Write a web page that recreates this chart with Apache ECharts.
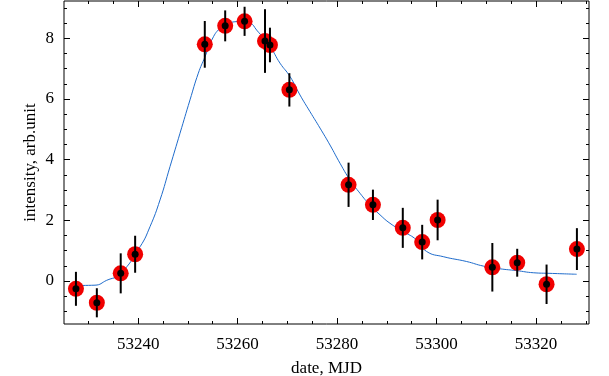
<!DOCTYPE html>
<html>
<head>
<meta charset="utf-8">
<script src="https://cdn.jsdelivr.net/npm/echarts@6/dist/echarts.min.js"></script>
<style>
  html, body { margin: 0; padding: 0; background: #fff; }
  #chart { width: 609px; height: 376px; }
</style>
</head>
<body>
<div id="chart"></div>
<script>
// observed points
const dates = [53227.5, 53231.7, 53236.5, 53239.4, 53253.4, 53257.5, 53261.4, 53265.5, 53266.5, 53270.4,
  53282.3, 53287.2, 53293.2, 53297.1, 53300.2, 53311.2, 53316.2, 53322.1, 53328.2];
const intensity = [-0.26, -0.72, 0.25, 0.88, 7.80, 8.41, 8.56, 7.91, 7.78, 6.30,
  3.17, 2.51, 1.75, 1.28, 2.01, 0.45, 0.60, -0.11, 1.05];
const errors = [0.56, 0.48, 0.66, 0.61, 0.77, 0.51, 0.48, 1.05, 0.57, 0.55,
  0.73, 0.50, 0.66, 0.57, 0.67, 0.80, 0.46, 0.65, 0.69];

// fitted curve
const fitDates = [53227.65, 53231.33, 53233.68, 53236.36, 53240.4, 53242.39, 53244.4, 53246.41, 53248.42,
  53250.43, 53252.1, 53253.44, 53254.79, 53256.46, 53258.47, 53260.48, 53262.49, 53263.83, 53266.51,
  53268.52, 53270.53, 53272.54, 53274.55, 53276.56, 53278.57, 53280.58, 53282.59, 53284.6, 53286.61,
  53288.62, 53290.63, 53293.3, 53295.99, 53298.0, 53301.34, 53306.04, 53309.38, 53312.74, 53316.1,
  53319.43, 53322.79, 53328.15];
const fitValues = [-0.15, -0.14, 0.02, 0.23, 1.13, 1.79, 2.67, 3.77, 4.87,
  5.97, 6.85, 7.39, 7.94, 8.33, 8.52, 8.55, 8.50, 8.27, 7.73,
  7.18, 6.74, 6.13, 5.58, 5.04, 4.48, 3.88, 3.33, 2.89, 2.50,
  2.18, 1.90, 1.63, 1.35, 0.97, 0.80, 0.64, 0.49, 0.40, 0.34,
  0.27, 0.25, 0.22];

// ticks
const xMajor = [53240, 53260, 53280, 53300, 53320];
const xMinor = [53230, 53235, 53245, 53250, 53255, 53265, 53270, 53275, 53285, 53290, 53295,
  53305, 53310, 53315, 53325, 53330];
const yMajor = [0, 2, 4, 6, 8];
const yMinor = [-1, -0.5, 0.5, 1, 1.5, 2.5, 3, 3.5, 4.5, 5, 5.5, 6.5, 7, 7.5, 8.5, 9];

const X_MIN = 53225.1, X_MAX = 53330.63;
const Y_MIN = -1.42, Y_MAX = 9.23;
const font = "Liberation Serif";

const makeX = (pos, ticks, len, labels) => ({
  type: "value", position: pos, min: X_MIN, max: X_MAX,
  axisLine: { show: false, onZero: false },
  splitLine: { show: false },
  axisTick: { show: true, inside: true, length: len, customValues: ticks,
    lineStyle: { color: "#000", width: 1 } },
  axisLabel: labels
    ? { show: true, customValues: ticks, margin: 12, color: "#000", fontFamily: font, fontSize: 17,
        formatter: (v) => String(v) }
    : { show: false },
});

const makeY = (pos, ticks, len, labels) => ({
  type: "value", position: pos, min: Y_MIN, max: Y_MAX,
  axisLine: { show: false, onZero: false },
  splitLine: { show: false },
  axisTick: { show: true, inside: true, length: len, customValues: ticks,
    lineStyle: { color: "#000", width: 1 } },
  axisLabel: labels
    ? { show: true, customValues: ticks, margin: 10, color: "#000", fontFamily: font, fontSize: 17,
        formatter: (v) => String(v) }
    : { show: false },
});

const xAxes = [
  makeX("bottom", xMajor, 6, true),
  makeX("bottom", xMinor, 3, false),
  makeX("top", xMajor, 6, false),
  makeX("top", xMinor, 3, false),
];
xAxes[0].name = "date, MJD";
xAxes[0].nameLocation = "middle";
xAxes[0].nameGap = 36;
xAxes[0].nameMoveOverlap = false;
xAxes[0].nameTextStyle = { color: "#000", fontFamily: font, fontSize: 17 };

const yAxes = [
  makeY("left", yMajor, 6, true),
  makeY("left", yMinor, 3, false),
  makeY("right", yMajor, 6, false),
  makeY("right", yMinor, 3, false),
];
yAxes[0].name = "intensity, arb.unit";
yAxes[0].nameLocation = "middle";
yAxes[0].nameRotate = 90;
yAxes[0].nameGap = 25;
yAxes[0].nameMoveOverlap = false;
yAxes[0].nameTextStyle = { color: "#000", fontFamily: font, fontSize: 17 };

const pts = dates.map((d, i) => [d, intensity[i]]);
const bars = dates.map((d, i) => [d, intensity[i] - errors[i], intensity[i] + errors[i]]);

const chart = echarts.init(document.getElementById("chart"));
chart.setOption({
  animation: false,
  backgroundColor: "#fff",
  grid: {
    left: 64, right: 20, top: 1, bottom: 52,
    outerBoundsMode: "none",
    show: true, borderColor: "#000", borderWidth: 1,
  },
  xAxis: xAxes,
  yAxis: yAxes,
  series: [
    {
      type: "line",
      data: fitDates.map((d, i) => [d, fitValues[i]]),
      smooth: true,
      showSymbol: false,
      lineStyle: { color: "#1f6ccc", width: 1 },
      z: 1,
    },
    {
      type: "scatter",
      data: pts,
      symbolSize: 16,
      itemStyle: { color: "#f00000", opacity: 1 },
      z: 2,
    },
    {
      type: "custom",
      data: bars,
      renderItem: (params, api) => {
        const lo = api.coord([api.value(0), api.value(1)]);
        const hi = api.coord([api.value(0), api.value(2)]);
        return {
          type: "line",
          shape: { x1: lo[0], y1: lo[1], x2: hi[0], y2: hi[1] },
          style: { stroke: "#000", lineWidth: 2 },
        };
      },
      z: 3,
    },
    {
      type: "scatter",
      data: pts,
      symbolSize: 7,
      itemStyle: { color: "#000", opacity: 1 },
      z: 4,
    },
  ],
});
</script>
</body>
</html>
